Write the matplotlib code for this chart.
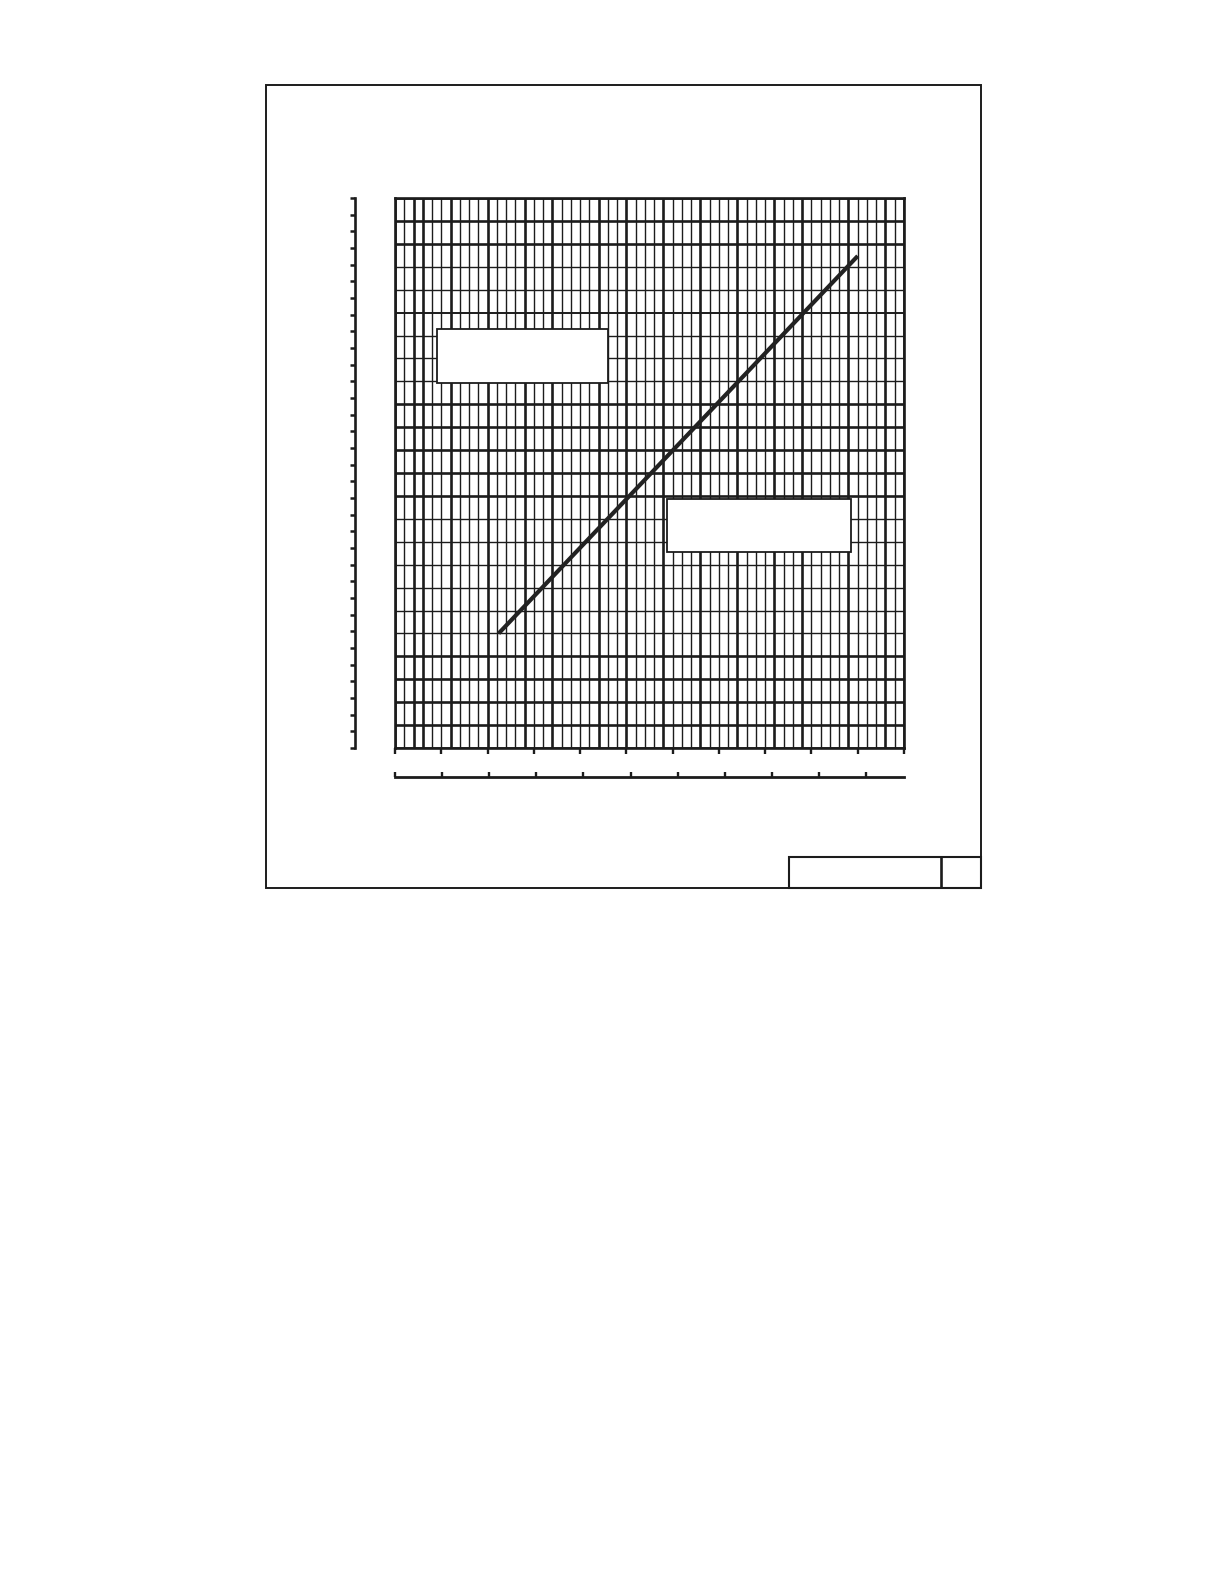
import numpy as np
import matplotlib.pyplot as plt
from matplotlib.patches import Rectangle

# donnees (unites de la grille : x en grands carreaux 0-11, y en lignes 0-24)
line_x = [2.24, 10.0]
line_y = [5.0, 21.47]

x_major_ticks = list(range(0, 12))      # graduations sous la grille
lower_ticks = list(range(0, 11))        # echelle du bas
y_scale_ticks = list(range(0, 34))      # echelle de gauche (33 intervalles)

# lignes de grille plus epaisses (effet du scan)
thick_cols = [0, 2, 3, 6, 10, 14, 17, 22, 25, 29, 33, 37, 41, 44, 49, 53, 55]
thick_rows = [0, 1, 2, 3, 4, 11, 12, 13, 14, 15, 22, 23, 24]
medium_rows = [19]

W, H = 1224, 1584
fig = plt.figure(figsize=(W / 100, H / 100), dpi=100)
fig.patch.set_facecolor('white')

# cadre de la page (coordonnees pixels)
page = fig.add_axes([0, 0, 1, 1])
page.set_xlim(0, W)
page.set_ylim(H, 0)
page.axis('off')
ink = '#1c1c1c'
page.add_patch(Rectangle((265.7, 84.7), 981.3 - 265.7, 888 - 84.7,
                         fill=False, ec=ink, lw=1.4))
page.add_patch(Rectangle((788.7, 857), 981.3 - 788.7, 888 - 857,
                         fill=False, ec=ink, lw=1.5))
page.plot([941, 941], [857, 888], color=ink, lw=1.9, solid_capstyle='butt')

# zone de la grille
left, right, top, bottom = 395, 904, 198, 748
ax = fig.add_axes([left / W, 1 - bottom / H, (right - left) / W, (bottom - top) / H])
ax.set_xlim(0, 11)
ax.set_ylim(0, 24)

for i in range(56):
    lw = 1.9 if i in thick_cols else 1.0
    ax.axvline(i / 5, color=ink, lw=lw, zorder=1)
for j in range(25):
    if j in thick_rows:
        lw = 1.9
    elif j in medium_rows:
        lw = 1.4
    else:
        lw = 1.0
    ax.axhline(j, color=ink, lw=lw, zorder=1)

for s in ax.spines.values():
    s.set_linewidth(1.9)
    s.set_color(ink)

# cases vides
ax.add_patch(Rectangle((0.897, 15.93), 4.597 - 0.897, 18.28 - 15.93,
                       fc='white', ec=ink, lw=1.3, zorder=3))
ax.add_patch(Rectangle((5.88, 8.54), 9.85 - 5.88, 10.88 - 8.54,
                       fc='white', ec=ink, lw=1.3, zorder=3))

# la droite
ax.plot(line_x, line_y, color='#222222', lw=3.0, solid_capstyle='butt', zorder=4)

ax.set_xticks(x_major_ticks)
ax.set_yticks([])
ax.tick_params(axis='x', direction='out', length=4.5, width=1.7, color=ink,
               labelbottom=False)

# echelle verticale a gauche
k_y = 33 / 24
sec_y = ax.secondary_yaxis((355 - left) / (right - left),
                           functions=(lambda v: v * k_y, lambda v: v / k_y))
sec_y.set_yticks(y_scale_ticks)
sec_y.tick_params(direction='out', length=3.3, width=1.8, color=ink, labelleft=False)
sec_y.spines['left'].set_linewidth(1.9)
sec_y.spines['left'].set_color(ink)

# echelle horizontale du bas
k_x = 46.27 / 47.1
sec_x = ax.secondary_xaxis(-(777.5 - bottom) / (bottom - top),
                           functions=(lambda v: v * k_x, lambda v: v / k_x))
sec_x.set_xticks(lower_ticks)
sec_x.tick_params(direction='in', length=3.3, width=1.7, color=ink, labelbottom=False)
sec_x.spines['bottom'].set_linewidth(2.0)
sec_x.spines['bottom'].set_color(ink)

fig.savefig('out.png', dpi=100, facecolor='white')
